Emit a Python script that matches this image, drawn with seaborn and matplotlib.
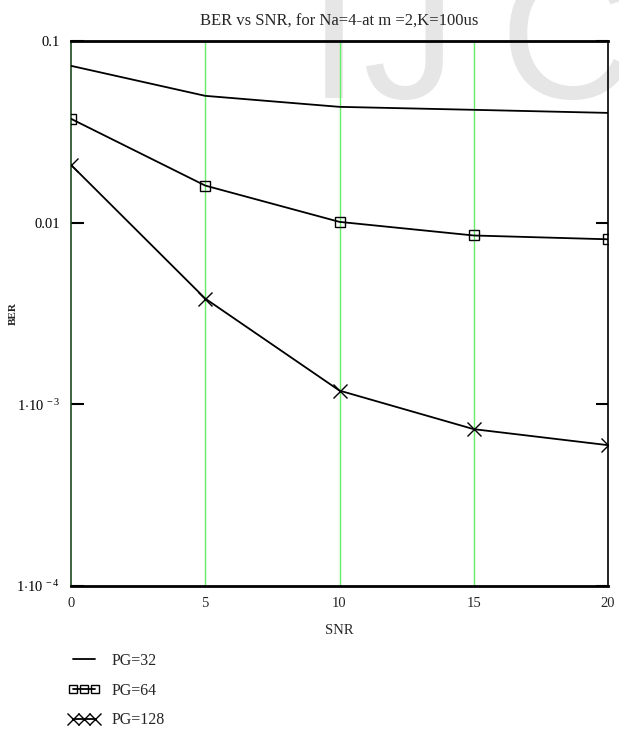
import numpy as np
import pandas as pd
import matplotlib
matplotlib.use("Agg")
import matplotlib.pyplot as plt
import seaborn as sns
from matplotlib.ticker import FixedLocator, FixedFormatter

snr = [0, 5, 10, 15, 20]
ber_pg32 = [0.073, 0.0499, 0.0434, 0.0418, 0.0402]
ber_pg64 = [0.0373, 0.0160, 0.0101, 0.0085, 0.0081]
ber_pg128 = [0.0208, 0.00382, 0.00119, 0.00073, 0.000596]
series_names = ["PG=32", "PG=64", "PG=128"]
y_ticks = [1e-4, 1e-3, 0.01, 0.1]
y_tick_labels = [r"$1{\cdot}10^{\,-4}$", r"$1{\cdot}10^{\,-3}$", "0.01", "0.1"]
x_ticks = [0, 5, 10, 15, 20]
title = "BER vs SNR, for Na=4-at m =2,K=100us"
watermark = ["I", "J", "C"]

sns.set_style("white")
plt.rcParams["font.family"] = ["Liberation Serif", "DejaVu Serif"]
plt.rcParams["mathtext.fontset"] = "custom"
plt.rcParams["mathtext.rm"] = "Liberation Serif"
plt.rcParams["mathtext.it"] = "Liberation Serif"

W, H = 619, 730
fig = plt.figure(figsize=(W / 100, H / 100), dpi=100)
fig.patch.set_facecolor("white")

# watermark letters (behind everything)
for ch, px in zip(watermark, [308, 362, 500]):
    fig.text(px / W, 1 - 98 / H, ch, fontsize=135, color="#e6e6e6",
             family="Liberation Sans", ha="left", va="baseline", zorder=-5)

ax = fig.add_axes([71 / W, 1 - 586 / H, (608 - 71) / W, (586 - 41) / H])
ax.set_facecolor("none")

df = pd.DataFrame({
    "SNR": snr * 3,
    "BER": ber_pg32 + ber_pg64 + ber_pg128,
    "series": [series_names[0]] * 5 + [series_names[1]] * 5 + [series_names[2]] * 5,
})

for name, mk, ms in zip(series_names, [None, "s", "x"], [0, 7, 10]):
    sub = df[df["series"] == name]
    sns.lineplot(data=sub, x="SNR", y="BER", ax=ax, color="black", lw=1.3,
                 marker=mk, markersize=ms, markerfacecolor="none",
                 markeredgecolor="black", markeredgewidth=1.0, label=name, zorder=3)

ax.set_yscale("log")
ax.set_xlim(0, 20)
ax.set_ylim(1e-4, 0.1)

for xv in [5, 10, 15]:
    ax.axvline(xv, color="#66ee66", lw=1.0, zorder=1)

ax.yaxis.set_major_locator(FixedLocator(y_ticks))
ax.yaxis.set_major_formatter(FixedFormatter(y_tick_labels))
ax.yaxis.set_minor_locator(FixedLocator([]))
ax.set_xticks(x_ticks)
ax.set_xticklabels([str(v) for v in x_ticks])
ax.tick_params(axis="y", which="major", direction="in", length=9, width=1.5,
               left=True, right=True, labelsize=10.5, pad=8, colors="black")
ax.tick_params(axis="x", direction="in", length=0, labelsize=10.5, pad=8)

for side in ["top", "bottom"]:
    ax.spines[side].set_linewidth(2.0)
    ax.spines[side].set_color("black")
ax.spines["right"].set_linewidth(1.2)
ax.spines["right"].set_color("black")
ax.spines["left"].set_linewidth(1.2)
ax.spines["left"].set_color("#1f4a1f")

ax.set_title(title, fontsize=12, pad=11)
ax.set_xlabel("SNR", fontsize=10.5, labelpad=10)
ax.set_ylabel("BER", fontsize=8, fontweight="bold")
ax.yaxis.set_label_coords((18 - 71) / (608 - 71), 0.5)

ax.legend(loc="upper left", bbox_to_anchor=(68 / W, 1 - 653 / H), bbox_transform=fig.transFigure,
          frameon=False, fontsize=11.5, handlelength=2.0, numpoints=3, markerscale=0.8,
          labelspacing=0.85, handletextpad=0.7, borderaxespad=0, borderpad=0)

fig.savefig("out.png", dpi=100)
